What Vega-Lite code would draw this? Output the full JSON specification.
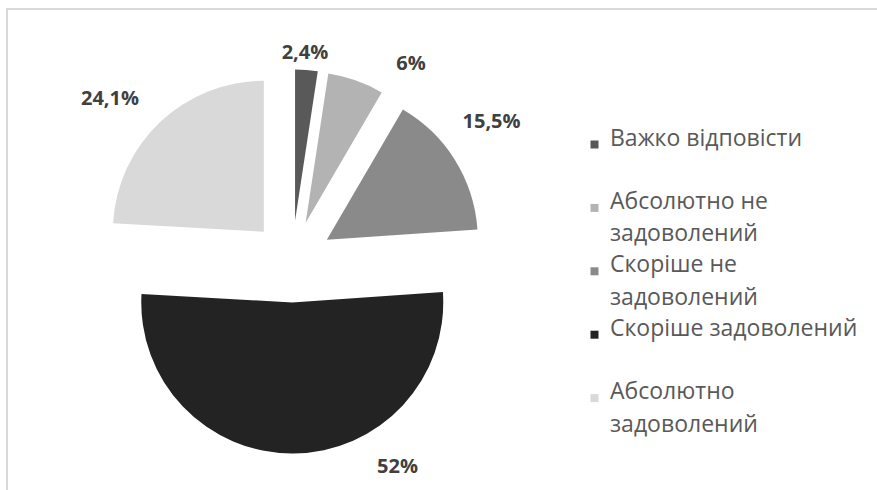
{
  "$schema": "https://vega.github.io/schema/vega-lite/v6.json",
  "autosize": {"type": "none"},
  "padding": {"left": 7, "top": 9, "right": 0, "bottom": 0},
  "width": 872,
  "height": 483,
  "background": "white",
  "view": {"stroke": "#d9d9d9", "strokeWidth": 2},
  "config": {
    "view": {"stroke": "#d9d9d9", "strokeWidth": 2},
    "font": "Open Sans"
  },
  "data": {"values": [
    {"k": "Важко відповісти", "ord": 1, "v": 2.4, "lbl": "2,4%"},
    {"k": "Абсолютно не задоволений", "ord": 2, "v": 6, "lbl": "6%"},
    {"k": "Скоріше не задоволений", "ord": 3, "v": 15.5, "lbl": "15,5%"},
    {"k": "Скоріше задоволений", "ord": 4, "v": 52, "lbl": "52%"},
    {"k": "Абсолютно задоволений", "ord": 5, "v": 24.1, "lbl": "24,1%"}
  ]},
  "transform": [
    {"stack": "v", "groupby": [], "sort": [{"field": "ord", "order": "ascending"}], "as": ["v0", "v1"]}
  ],
  "layer": [
    {
      "mark": {"type": "rule", "opacity": 0},
      "encoding": {"x": {"datum": 0, "type": "quantitative", "axis": null}}
    },
    {
      "transform": [{"filter": "datum.ord == 1"}],
      "mark": {"type": "arc", "outerRadius": 151, "x": 285, "y": 252.5, "xOffset": 3.09, "yOffset": -40.88},
      "encoding": {
        "theta": {"field": "v0", "type": "quantitative", "scale": {"domain": [0, 100]}},
        "theta2": {"field": "v1"},
        "color": {
          "field": "k", "type": "nominal",
          "scale": {"domain": ["Важко відповісти", "Абсолютно не задоволений", "Скоріше не задоволений", "Скоріше задоволений", "Абсолютно задоволений"],
                    "range": ["#595959", "#b3b3b3", "#8a8a8a", "#232323", "#d9d9d9"]},
          "legend": {
            "orient": "none", "legendX": 576, "legendY": 124, "title": null,
            "symbolType": "square", "symbolSize": 64, "symbolStrokeWidth": 0,
            "labelFontSize": 23, "labelColor": "#595959", "labelFont": "Open Sans",
            "labelOffset": 4, "labelBaseline": "top", "labelLimit": 400,
            "rowPadding": 7.4, "padding": 0,
            "labelExpr": "datum.label == 'Абсолютно не задоволений' ? ['Абсолютно не', 'задоволений'] : datum.label == 'Скоріше не задоволений' ? ['Скоріше не', 'задоволений'] : datum.label == 'Скоріше задоволений' ? ['Скоріше задоволений', ''] : datum.label == 'Абсолютно задоволений' ? ['Абсолютно', 'задоволений'] : ['Важко відповісти', '']",
            "encode": {"labels": {"update": {
              "lineHeight": {"value": 32.5},
              "dy": {"value": -17}
            }}}
          }
        }
      }
    },
    {
      "transform": [{"filter": "datum.ord == 2"}],
      "mark": {"type": "arc", "outerRadius": 151, "x": 285, "y": 252.5, "xOffset": 13.65, "yOffset": -38.66},
      "encoding": {
        "theta": {"field": "v0", "type": "quantitative", "scale": {"domain": [0, 100]}},
        "theta2": {"field": "v1"},
        "color": {"field": "k", "type": "nominal"}
      }
    },
    {
      "transform": [{"filter": "datum.ord == 3"}],
      "mark": {"type": "arc", "outerRadius": 151, "x": 285, "y": 252.5, "xOffset": 34.83, "yOffset": -21.64},
      "encoding": {
        "theta": {"field": "v0", "type": "quantitative", "scale": {"domain": [0, 100]}},
        "theta2": {"field": "v1"},
        "color": {"field": "k", "type": "nominal"}
      }
    },
    {
      "transform": [{"filter": "datum.ord == 4"}],
      "mark": {"type": "arc", "outerRadius": 151, "x": 285, "y": 252.5, "xOffset": 0.26, "yOffset": 41.0},
      "encoding": {
        "theta": {"field": "v0", "type": "quantitative", "scale": {"domain": [0, 100]}},
        "theta2": {"field": "v1"},
        "color": {"field": "k", "type": "nominal"}
      }
    },
    {
      "transform": [{"filter": "datum.ord == 5"}],
      "mark": {"type": "arc", "outerRadius": 151, "x": 285, "y": 252.5, "xOffset": -28.16, "yOffset": -29.8},
      "encoding": {
        "theta": {"field": "v0", "type": "quantitative", "scale": {"domain": [0, 100]}},
        "theta2": {"field": "v1"},
        "color": {"field": "k", "type": "nominal"}
      }
    },
    {
      "mark": {"type": "text", "x": 285, "y": 252.5, "xOffset": -0.2, "yOffset": -34, "fontWeight": "bold", "fontSize": 20, "fill": "#404040", "align": "center", "baseline": "middle"},
      "encoding": {
        "theta": {"field": "v", "type": "quantitative", "stack": true, "scale": {"domain": [0, 100]}},
        "order": {"field": "ord"},
        "detail": {"field": "k"},
        "radius": {"value": 175},
        "text": {"condition": {"test": "datum.ord == 1", "field": "lbl"}, "value": ""}
      }
    },
    {
      "mark": {"type": "text", "x": 285, "y": 252.5, "xOffset": 60.8, "yOffset": -32, "fontWeight": "bold", "fontSize": 20, "fill": "#404040", "align": "center", "baseline": "middle"},
      "encoding": {
        "theta": {"field": "v", "type": "quantitative", "stack": true, "scale": {"domain": [0, 100]}},
        "order": {"field": "ord"},
        "detail": {"field": "k"},
        "radius": {"value": 175},
        "text": {"condition": {"test": "datum.ord == 2", "field": "lbl"}, "value": ""}
      }
    },
    {
      "mark": {"type": "text", "x": 285, "y": 252.5, "xOffset": 50.9, "yOffset": -47.1, "fontWeight": "bold", "fontSize": 20, "fill": "#404040", "align": "center", "baseline": "middle"},
      "encoding": {
        "theta": {"field": "v", "type": "quantitative", "stack": true, "scale": {"domain": [0, 100]}},
        "order": {"field": "ord"},
        "detail": {"field": "k"},
        "radius": {"value": 175},
        "text": {"condition": {"test": "datum.ord == 3", "field": "lbl"}, "value": ""}
      }
    },
    {
      "mark": {"type": "text", "x": 285, "y": 252.5, "xOffset": 104.4, "yOffset": 31, "fontWeight": "bold", "fontSize": 20, "fill": "#404040", "align": "center", "baseline": "middle"},
      "encoding": {
        "theta": {"field": "v", "type": "quantitative", "stack": true, "scale": {"domain": [0, 100]}},
        "order": {"field": "ord"},
        "detail": {"field": "k"},
        "radius": {"value": 175},
        "text": {"condition": {"test": "datum.ord == 4", "field": "lbl"}, "value": ""}
      }
    },
    {
      "mark": {"type": "text", "x": 285, "y": 252.5, "xOffset": -61.8, "yOffset": -35.8, "fontWeight": "bold", "fontSize": 20, "fill": "#404040", "align": "center", "baseline": "middle"},
      "encoding": {
        "theta": {"field": "v", "type": "quantitative", "stack": true, "scale": {"domain": [0, 100]}},
        "order": {"field": "ord"},
        "detail": {"field": "k"},
        "radius": {"value": 175},
        "text": {"condition": {"test": "datum.ord == 5", "field": "lbl"}, "value": ""}
      }
    }
  ]
}
